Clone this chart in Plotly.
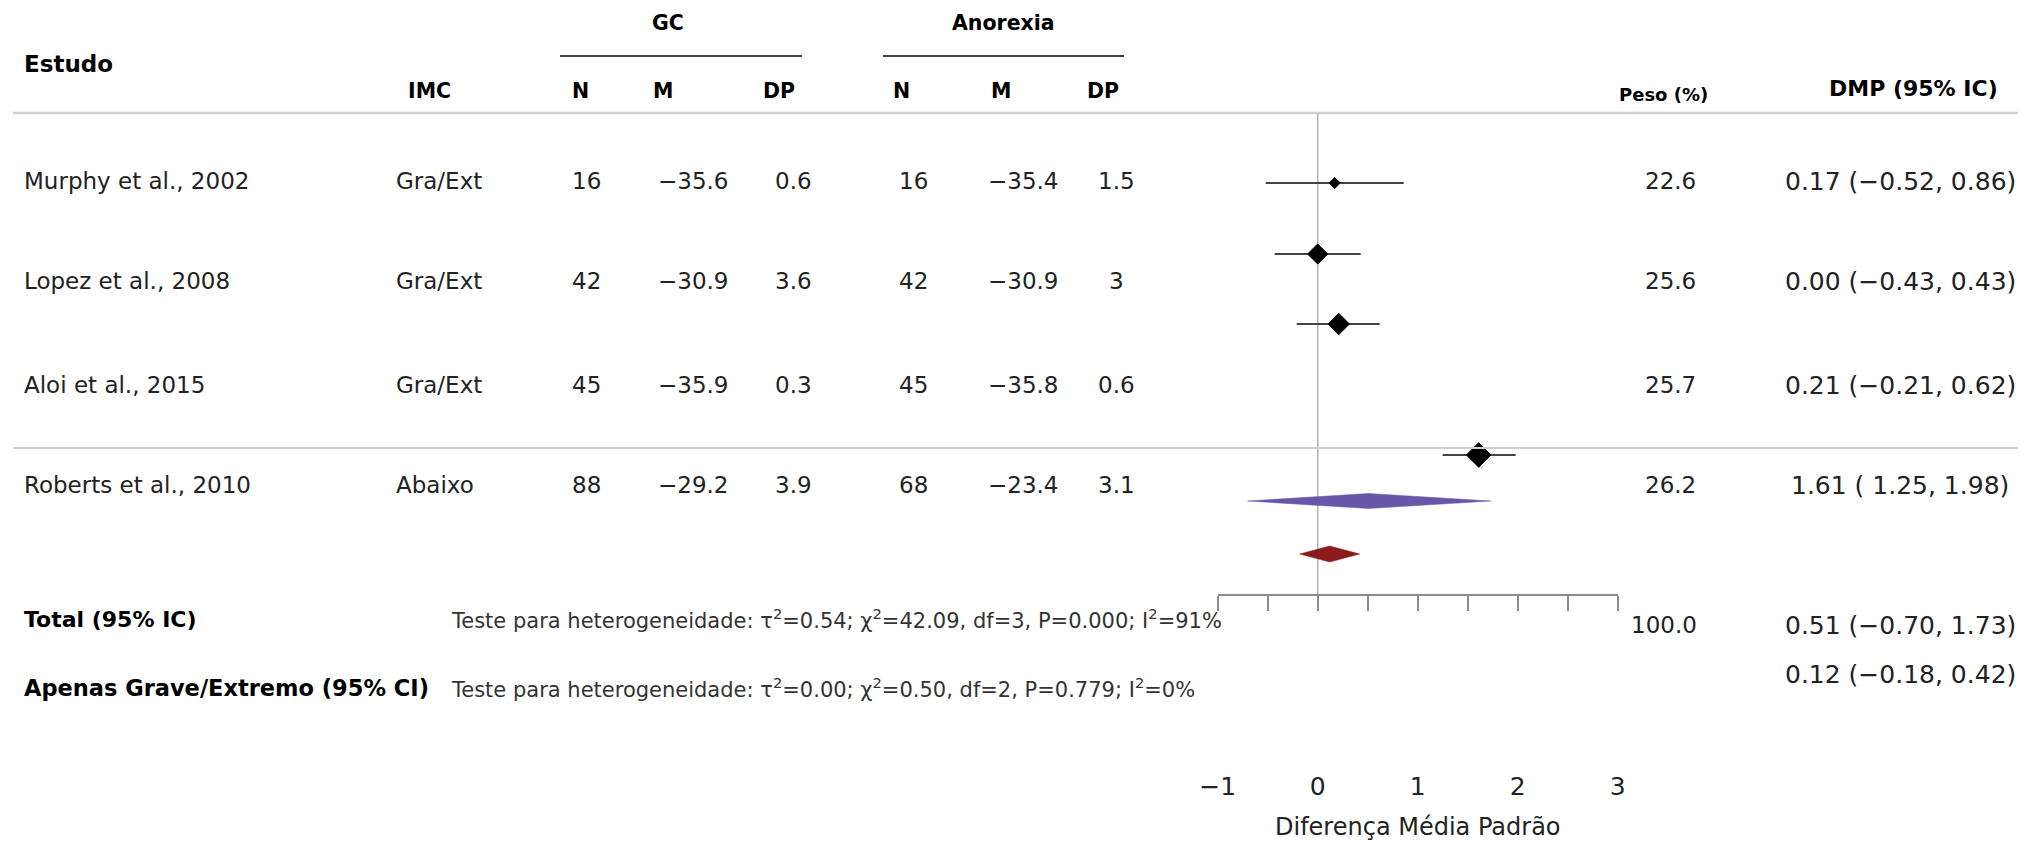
import plotly.graph_objects as go

# ---------------- data ----------------
studies = ["Murphy et al., 2002", "Lopez et al., 2008", "Aloi et al., 2015", "Roberts et al., 2010"]
imc = ["Gra/Ext", "Gra/Ext", "Gra/Ext", "Abaixo"]
gc_n = [16, 42, 45, 88]
gc_m = [-35.6, -30.9, -35.9, -29.2]
gc_dp = [0.6, 3.6, 0.3, 3.9]
an_n = [16, 42, 45, 68]
an_m = [-35.4, -30.9, -35.8, -23.4]
an_dp = [1.5, 3, 0.6, 3.1]
weights = [22.6, 25.6, 25.7, 26.2]
smd = [0.17, 0.00, 0.21, 1.61]
ci_lo = [-0.52, -0.43, -0.21, 1.25]
ci_hi = [0.86, 0.43, 0.62, 1.98]

total_label = "Total (95% IC)"
total_weight = 100.0
total_est, total_lo, total_hi = 0.51, -0.70, 1.73
total_het = "Teste para heterogeneidade: τ<sup>2</sup>=0.54; χ<sup>2</sup>=42.09, df=3, P=0.000; I<sup>2</sup>=91%"

sub_label = "Apenas Grave/Extremo (95% CI)"
sub_est, sub_lo, sub_hi = 0.12, -0.18, 0.42
sub_het = "Teste para heterogeneidade: τ<sup>2</sup>=0.00; χ<sup>2</sup>=0.50, df=2, P=0.779; I<sup>2</sup>=0%"

tick_vals = [-1, 0, 1, 2, 3]
tick_text = ["−1", "0", "1", "2", "3"]
minor_tick_vals = [-0.5, 0.5, 1.5, 2.5]
x_title = "Diferença Média Padrão"

# ---------------- layout constants (pixels) ----------------
W, H = 2039, 846
FONT = "DejaVu Sans, Verdana, sans-serif"
AX_LEFT_PX, AX_RIGHT_PX = 1217.7, 1617.7
AXIS_Y = 595
HEADER_LINE_Y = 113
SEP_Y = 448
text_rows = [181, 281, 385, 485]
marker_rows = [183, 254, 324, 455]
marker_sizes = [8.5, 15.5, 16.5, 19]
TOTAL_Y, SUB_Y = 619, 688
TOTAL_DIAMOND_Y, SUB_DIAMOND_Y = 501, 554
ROW_SIZE = 23
HEAD_SIZE = 20.5
AX_COLOR = "#8c8c8c"


def fmt(v, nd=1):
    return f"{v:.{nd}f}".replace("-", "−")


def fmt_num(v):
    return str(v).replace("-", "−")


def fmt_ci(e, lo, hi):
    return f"{e:.2f} ({lo:5.2f}, {hi:.2f})".replace("-", "−")


fig = go.Figure()

# confidence-interval lines (drawn first, under the markers)
ci_x, ci_y = [], []
for lo, hi, yr in zip(ci_lo, ci_hi, marker_rows):
    ci_x += [lo, hi, None]
    ci_y += [yr, yr, None]
fig.add_trace(go.Scatter(x=ci_x, y=ci_y, mode="lines",
                         line=dict(color="#444444", width=2.2), hoverinfo="skip"))

# study point estimates
fig.add_trace(go.Scatter(
    x=smd, y=marker_rows, mode="markers",
    marker=dict(symbol="diamond", size=marker_sizes, color="#000000", opacity=1,
                line=dict(width=1, color="#000000")),
    hoverinfo="skip"))


def diamond(lo, est, hi, yc, half_h, color):
    fig.add_trace(go.Scatter(
        x=[lo, est, hi, est, lo], y=[yc, yc - half_h, yc, yc + half_h, yc],
        mode="lines", fill="toself", fillcolor=color, line=dict(width=0.5, color=color),
        hoverinfo="skip"))


diamond(total_lo, total_est, total_hi, TOTAL_DIAMOND_Y, 7.5, "#6a56a9")
diamond(sub_lo, sub_est, sub_hi, SUB_DIAMOND_Y, 8, "#8b1a1a")

shapes = []
shapes.append(dict(type="line", xref="paper", yref="y", x0=13 / W, x1=2018 / W,
                   y0=HEADER_LINE_Y, y1=HEADER_LINE_Y, line=dict(color="#d0d0d0", width=2.5)))
shapes.append(dict(type="line", xref="paper", yref="y", x0=13 / W, x1=2018 / W,
                   y0=SEP_Y, y1=SEP_Y, line=dict(color="#d0d0d0", width=2)))
shapes.append(dict(type="line", xref="paper", yref="y", x0=560 / W, x1=802 / W,
                   y0=56, y1=56, line=dict(color="#444444", width=2)))
shapes.append(dict(type="line", xref="paper", yref="y", x0=883 / W, x1=1124 / W,
                   y0=56, y1=56, line=dict(color="#444444", width=2)))
shapes.append(dict(type="line", xref="x", yref="y", x0=0, x1=0,
                   y0=HEADER_LINE_Y, y1=AXIS_Y, line=dict(color="#b0b0b0", width=1.5), layer="below"))

annotations = []


def txt(xpx, ypx, text, anchor="center", size=ROW_SIZE, bold=False, color="#222222"):
    annotations.append(dict(
        x=xpx / W, y=ypx, xref="paper", yref="y", text=f"<b>{text}</b>" if bold else text,
        showarrow=False, xanchor=anchor, yanchor="middle", borderpad=0,
        font=dict(family=FONT, size=size, color="black" if bold else color)))


# headers
txt(668, 23, "GC", bold=True, size=HEAD_SIZE)
txt(1003, 23, "Anorexia", bold=True, size=HEAD_SIZE)
txt(23, 64, "Estudo", anchor="left", bold=True, size=23)
txt(429, 91, "IMC", bold=True, size=HEAD_SIZE)
for xp, lab in zip([580, 663, 779, 901, 1001, 1103], ["N", "M", "DP", "N", "M", "DP"]):
    txt(xp, 91, lab, bold=True, size=HEAD_SIZE)
txt(1663, 94, "Peso (%)", bold=True, size=18)
txt(1913, 88, "DMP (95% IC)", bold=True, size=22)

# study rows
for i, y in enumerate(text_rows):
    txt(23, y, studies[i], anchor="left")
    txt(395, y, imc[i], anchor="left")
    txt(586, y, fmt_num(gc_n[i]))
    txt(693, y, fmt(gc_m[i]))
    txt(793, y, fmt_num(gc_dp[i]))
    txt(913, y, fmt_num(an_n[i]))
    txt(1023, y, fmt(an_m[i]))
    txt(1116, y, fmt_num(an_dp[i]))
    txt(1670, y, fmt(weights[i]))
    txt(1900, y, fmt_ci(smd[i], ci_lo[i], ci_hi[i]), size=25)

# summary rows
txt(23, TOTAL_Y, total_label, anchor="left", bold=True, size=22)
txt(450, TOTAL_Y, total_het, anchor="left", size=21, color="#333333")
txt(1664, TOTAL_Y + 6, fmt(total_weight))
txt(1900, TOTAL_Y + 6, fmt_ci(total_est, total_lo, total_hi), size=25)

txt(23, SUB_Y, sub_label, anchor="left", bold=True, size=22.5)
txt(450, SUB_Y, sub_het, anchor="left", size=21, color="#333333")
txt(1900, SUB_Y - 14, fmt_ci(sub_est, sub_lo, sub_hi), size=25)

# axis title
annotations.append(dict(x=1, y=827, xref="x", yref="y", text=x_title, showarrow=False,
                        xanchor="center", yanchor="middle",
                        font=dict(family=FONT, size=24, color="#222222")))

fig.update_layout(
    template="none",
    width=W, height=H, margin=dict(l=0, r=0, t=0, b=0, pad=0, autoexpand=False),
    paper_bgcolor="white", plot_bgcolor="rgba(0,0,0,0)", showlegend=False,
    font=dict(family=FONT),
    xaxis=dict(domain=[AX_LEFT_PX / W, AX_RIGHT_PX / W], range=[-1, 3], automargin=False,
               anchor="free", position=(H - AXIS_Y) / H, side="bottom",
               showgrid=False, zeroline=False, showline=True, linecolor=AX_COLOR, linewidth=2,
               ticks="outside", ticklen=15, tickwidth=2, tickcolor=AX_COLOR,
               tickmode="array", tickvals=tick_vals, ticktext=tick_text,
               minor=dict(tickmode="array", tickvals=minor_tick_vals, ticks="outside",
                          ticklen=15, tickwidth=2, tickcolor=AX_COLOR, showgrid=False),
               tickfont=dict(family=FONT, size=25, color="#222222"),
               ticklabelstandoff=154),
    yaxis=dict(domain=[0, 1], range=[H, 0], visible=False, automargin=False),
    shapes=shapes, annotations=annotations,
)

fig.write_html("out.html", config={"displayModeBar": False},
               post_script="document.body.style.margin='0';")
